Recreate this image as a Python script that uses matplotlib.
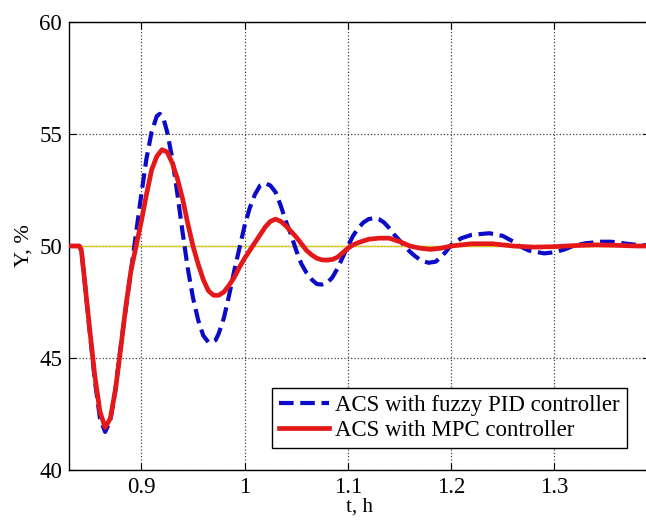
import matplotlib
matplotlib.use("Agg")
from matplotlib import pyplot as plt

# Time axis (hours) and responses
t_pid = [0.830, 0.840, 0.842, 0.845, 0.850, 0.855, 0.860, 0.865, 0.870, 0.875,
         0.880, 0.885, 0.890, 0.895, 0.900, 0.905, 0.910, 0.915, 0.918, 0.922,
         0.925, 0.930, 0.935, 0.940, 0.945, 0.950, 0.955, 0.960, 0.965, 0.968,
         0.972, 0.975, 0.980, 0.985, 0.990, 0.995, 1.000, 1.005, 1.010, 1.015,
         1.020, 1.025, 1.030, 1.035, 1.040, 1.045, 1.050, 1.055, 1.060, 1.065,
         1.070, 1.075, 1.080, 1.085, 1.090, 1.095, 1.100, 1.105, 1.110, 1.115,
         1.120, 1.126, 1.130, 1.135, 1.140, 1.145, 1.150, 1.155, 1.160, 1.165,
         1.170, 1.178, 1.185, 1.190, 1.195, 1.200, 1.210, 1.220, 1.237, 1.250,
         1.260, 1.266, 1.275, 1.290, 1.300, 1.310, 1.318, 1.330, 1.345, 1.355,
         1.370, 1.380, 1.392]
y_pid = [50.0, 50.0, 49.8, 48.5, 46.2, 44.0, 42.3, 41.7, 42.2, 43.6,
         45.5, 47.2, 48.9, 50.6, 52.3, 53.9, 55.1, 55.8, 55.9, 55.6,
         55.1, 53.9, 52.3, 50.6, 49.0, 47.7, 46.7, 46.0, 45.7, 45.7,
         45.8, 46.1, 46.8, 47.8, 48.9, 49.9, 50.9, 51.7, 52.3, 52.7,
         52.8, 52.7, 52.4, 51.8, 51.1, 50.5, 49.8, 49.2, 48.8, 48.5,
         48.3, 48.28, 48.35, 48.6, 49.0, 49.5, 50.0, 50.45, 50.8, 51.05,
         51.2, 51.25, 51.2, 51.05, 50.8, 50.5, 50.25, 50.0, 49.75, 49.55,
         49.38, 49.25, 49.3, 49.5, 49.75, 50.05, 50.35, 50.5, 50.57, 50.45,
         50.2, 50.0, 49.8, 49.67, 49.72, 49.85, 50.0, 50.12, 50.19, 50.19,
         50.1, 50.05, 50.02]

t_mpc = [0.830, 0.840, 0.842, 0.845, 0.850, 0.855, 0.860, 0.865, 0.870, 0.875,
         0.880, 0.885, 0.890, 0.895, 0.900, 0.905, 0.910, 0.915, 0.920, 0.925,
         0.930, 0.935, 0.940, 0.945, 0.950, 0.955, 0.960, 0.965, 0.970, 0.975,
         0.980, 0.985, 0.990, 0.995, 1.000, 1.005, 1.010, 1.015, 1.020, 1.025,
         1.030, 1.035, 1.040, 1.045, 1.050, 1.055, 1.060, 1.065, 1.070, 1.075,
         1.080, 1.085, 1.090, 1.095, 1.100, 1.105, 1.110, 1.120, 1.130, 1.140,
         1.150, 1.160, 1.170, 1.180, 1.190, 1.200, 1.220, 1.240, 1.260, 1.280,
         1.300, 1.320, 1.340, 1.360, 1.380, 1.392]
y_mpc = [50.0, 50.0, 49.8, 48.5, 46.3, 44.2, 42.6, 41.9, 42.3, 43.6,
         45.4, 47.3, 48.9, 50.0, 51.1, 52.3, 53.4, 54.0, 54.3, 54.2,
         53.7, 53.0, 52.1, 51.0, 50.0, 49.2, 48.5, 48.0, 47.8, 47.8,
         47.95, 48.25, 48.6, 49.05, 49.45, 49.8, 50.15, 50.5, 50.85, 51.1,
         51.2, 51.1, 50.9, 50.65, 50.4, 50.1, 49.8, 49.6, 49.45, 49.38,
         49.37, 49.4, 49.5, 49.7, 49.9, 50.05, 50.15, 50.3, 50.35, 50.35,
         50.2, 50.0, 49.9, 49.85, 49.9, 50.0, 50.1, 50.1, 50.0, 49.95,
         49.97, 50.02, 50.05, 50.03, 50.0, 50.0]

# Set point
t_set = [0.83, 1.392]
y_set = [50, 50]

xticks = [0.9, 1.0, 1.1, 1.2, 1.3]
xtick_labels = ["0.9", "1", "1.1", "1.2", "1.3"]
yticks = [40, 45, 50, 55, 60]

plt.rcParams["font.family"] = ["Liberation Serif", "DejaVu Serif"]

fig = plt.figure(figsize=(6.46, 5.2), dpi=100)
ax = fig.add_axes([69 / 646, 50 / 520, 581 / 646, 448 / 520])

ax.plot(t_set, y_set, color="#d8cc20", linewidth=1.0, zorder=2)
ax.plot(t_pid, y_pid, color="#0a0ac8", linewidth=3.0, linestyle=(0, (3.5, 1.6)),
        label="ACS with fuzzy PID controller", zorder=3)
ax.plot(t_mpc, y_mpc, color="#e41818", linewidth=3.4,
        label="ACS with MPC controller", zorder=4)

ax.set_xlim(0.83, 1.3925)
ax.set_ylim(40, 60)
ax.set_xticks(xticks)
ax.set_xticklabels(xtick_labels)
ax.set_yticks(yticks)
ax.grid(True, color="#444444", linestyle=":", linewidth=0.9)
ax.tick_params(direction="in", top=True, right=True, labelsize=16.5, length=5, pad=5)
for s in ax.spines.values():
    s.set_linewidth(1.0)

ax.set_xlabel("t, h", fontsize=15, labelpad=0)
ax.set_ylabel("Y, %", fontsize=16, labelpad=4)

leg = ax.legend(loc="lower right", bbox_to_anchor=(638 / 646, 61 / 520),
                bbox_transform=fig.transFigure, fontsize=16.5, fancybox=False,
                framealpha=1, edgecolor="black", handlelength=2.2,
                handletextpad=0.25, borderpad=0.3, labelspacing=0.15)
leg.get_frame().set_linewidth(1.0)

fig.savefig("out.png", dpi=100)
